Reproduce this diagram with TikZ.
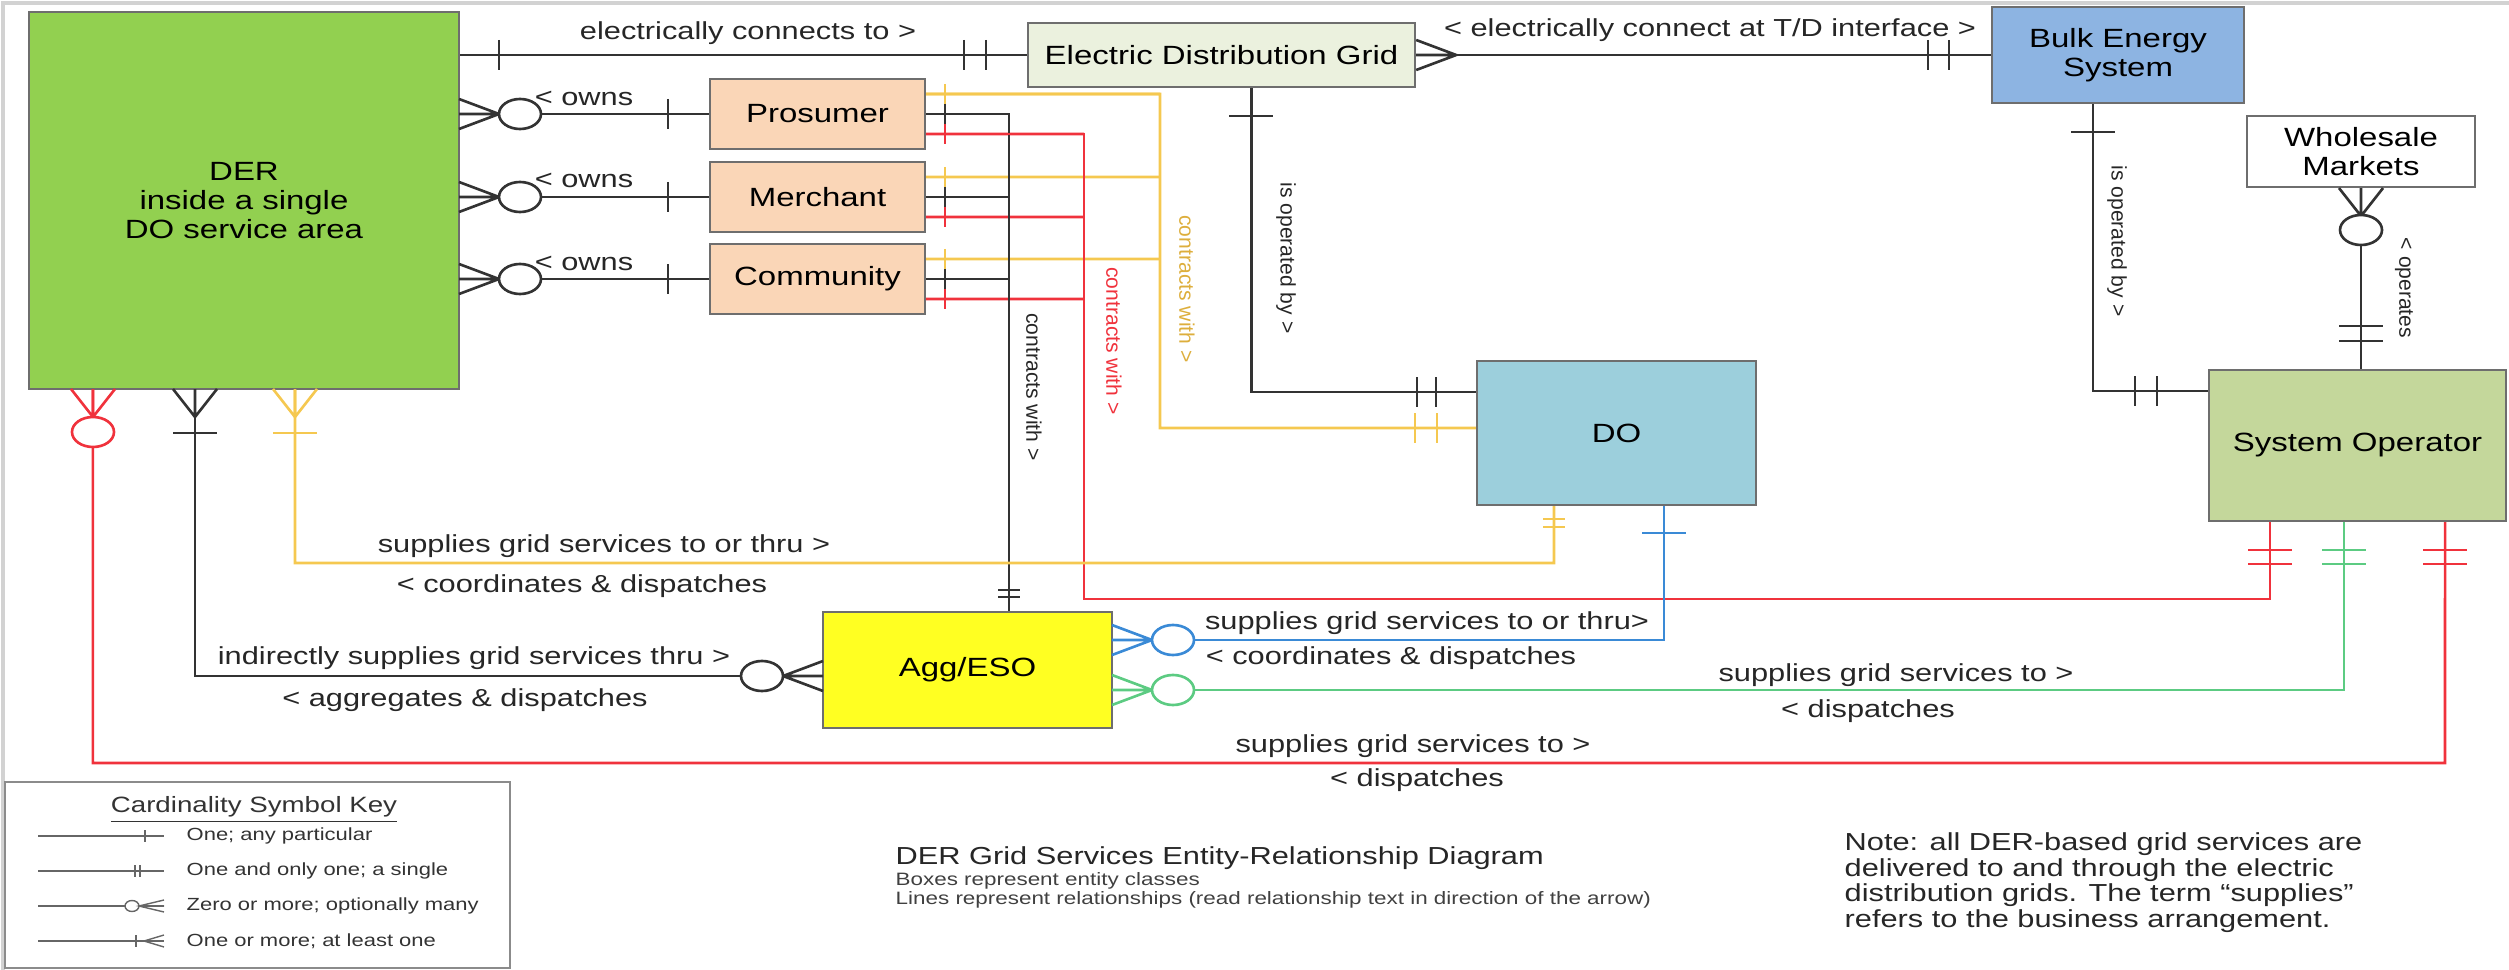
\documentclass[tikz,border=0pt]{standalone}
\usepackage{fontspec}
\setmainfont{Liberation Sans}[FakeStretch=1.25]
\newfontfamily\rotfont{Liberation Sans}
\usepackage{xcolor}
\usepackage{tikz}

\definecolor{dergreen}{HTML}{92D050}
\definecolor{peach}{HTML}{FAD6B7}
\definecolor{gridgreen}{HTML}{EBF1DE}
\definecolor{bulkblue}{HTML}{8DB4E2}
\definecolor{sogreen}{HTML}{C4D79B}
\definecolor{doblue}{HTML}{9CCFDC}
\definecolor{aggyellow}{HTML}{FFFF22}
\definecolor{linered}{HTML}{F0323C}
\definecolor{lineyellow}{HTML}{F5C850}
\definecolor{textyellow}{HTML}{DDAE3C}
\definecolor{lineblue}{HTML}{3A8AD6}
\definecolor{linegreen}{HTML}{5CCB82}
\definecolor{boxgray}{HTML}{6E6E6E}

\begin{document}
\begin{tikzpicture}[x=0.01cm, y=-0.01cm,
    box/.style={draw=boxgray, line width=0.6pt, inner sep=0pt, align=center, font=\fontsize{7.5}{8.2}\selectfont},
    rel/.style={inner sep=0pt, text=black!85, font=\fontsize{7}{8}\selectfont},
    relrot/.style={inner sep=0pt, text=black!85, rotate=-90, font=\rotfont\fontsize{6}{7}\selectfont},
    keytext/.style={inner sep=0pt, anchor=west, text=black!80, font=\fontsize{5}{6}\selectfont},
    conn/.style={line width=0.75pt},
    blk/.style={conn, draw=black!80},
    redl/.style={conn, draw=linered},
    yell/.style={conn, draw=lineyellow},
    blul/.style={conn, draw=lineblue},
    grnl/.style={conn, draw=linegreen},
    keyline/.style={draw=black!60, line width=0.4pt},
    vtick/.pic={\draw[conn] (0,-15) -- (0,15);},
    htick/.pic={\draw[conn] (-22,0) -- (22,0);},
    footR/.pic={\draw[conn] (0,-15) -- (40,0) -- (0,15) (0,0) -- (40,0);},
    footL/.pic={\draw[conn] (0,-15) -- (-40,0) -- (0,15) (0,0) -- (-40,0);},
    footD/.pic={\draw[conn] (-22,0) -- (0,28) -- (22,0) (0,0) -- (0,28);},
    ring/.pic={\draw[conn, fill=white] (0,0) ellipse [x radius=0.21cm, y radius=0.15cm];},
  ]
\useasboundingbox (0,0) rectangle (2509,970);
\draw[gray!35, line width=1pt] (3,970) -- (3,3) -- (2509,3);

% entities
\node[box, fill=dergreen, minimum width=4.30cm, minimum height=3.77cm] (der) at (244,200.5) {DER\\inside a single\\DO service area};
\node[box, fill=peach, minimum width=2.15cm, minimum height=0.70cm] (pros) at (817.5,114) {Prosumer};
\node[box, fill=peach, minimum width=2.15cm, minimum height=0.70cm] (merch) at (817.5,197) {Merchant};
\node[box, fill=peach, minimum width=2.15cm, minimum height=0.70cm] (comm) at (817.5,279) {Community};
\node[box, fill=gridgreen, minimum width=3.87cm, minimum height=0.64cm] (edg) at (1221.5,55) {Electric Distribution Grid};
\node[box, fill=bulkblue, minimum width=2.52cm, minimum height=0.96cm] (bes) at (2118,55) {Bulk Energy\\System};
\node[box, fill=white, minimum width=2.28cm, minimum height=0.71cm] (whm) at (2361,151.5) {Wholesale\\Markets};
\node[box, fill=sogreen, minimum width=2.97cm, minimum height=1.51cm] (sysop) at (2357.5,445.5) {System Operator};
\node[box, fill=doblue, minimum width=2.79cm, minimum height=1.44cm] (dso) at (1616.5,433) {DO};
\node[box, fill=aggyellow, minimum width=2.89cm, minimum height=1.16cm] (agg) at (967.5,670) {Agg/ESO};

% grid connections
\draw[blk] (der.east |- edg.west) -- (edg.west);
\pic[black!80] at (499,55) {vtick};
\pic[black!80] at (964,55) {vtick};
\pic[black!80] at (986,55) {vtick};
\draw[blk] (edg.east) -- (bes.west);
\pic[black!80] at (edg.east) {footR};
\pic[black!80] at (1928,55) {vtick};
\pic[black!80] at (1949,55) {vtick};

\draw[blk] ([xshift=0.30cm]edg.south) |- ([yshift=0.41cm]dso.west);
\pic[black!80] at (1251,116) {htick};
\pic[black!80] at (1417,392) {vtick};
\pic[black!80] at (1436,392) {vtick};

\draw[blk] ([xshift=-0.25cm]bes.south) |- ([yshift=0.545cm]sysop.west);
\pic[black!80] at (2093,132) {htick};
\pic[black!80] at (2135,391) {vtick};
\pic[black!80] at (2157,391) {vtick};

\draw[blk] (whm.south) -- (whm.south |- sysop.north);
\pic[black!80] at (whm.south) {footD};
\pic[black!80] at (2361,230) {ring};
\pic[black!80] at (2361,326) {htick};
\pic[black!80] at (2361,341) {htick};

% owners
\foreach \b/\y in {pros/114, merch/197, comm/279}{
  \draw[blk] (der.east |- \b.west) -- (\b.west);
  \pic[black!80] at (459,\y) {footR};
  \pic[black!80] at (520,\y) {ring};
  \pic[black!80] at (668,\y) {vtick};
  \draw[yell] ([yshift=0.2cm]\b.east) -- (1160,{\y-20});
  \draw[blk] (\b.east) -- (1009,\y);
  \draw[redl] ([yshift=-0.2cm]\b.east) -- (1084,{\y+20});
  \pic[lineyellow, scale=0.67] at (945,{\y-20}) {vtick};
  \pic[black!80, scale=0.67] at (945,\y) {vtick};
  \pic[linered, scale=0.67] at (945,{\y+20}) {vtick};
}
\draw[yell] ([yshift=0.2cm]pros.east) -| (1160,428) -- ([yshift=0.05cm]dso.west);
\pic[lineyellow] at (1415,428) {vtick};
\pic[lineyellow] at (1437,428) {vtick};
\draw[blk] (pros.east) -| ([xshift=0.415cm]agg.north);
\pic[black!80, scale=0.5] at (1009,590) {htick};
\pic[black!80, scale=0.5] at (1009,597) {htick};
\draw[redl] ([yshift=-0.2cm]pros.east) -| (1084,599) -| ([xshift=-0.875cm]sysop.south);
\pic[linered] at (2270,550) {htick};
\pic[linered] at (2270,564) {htick};

% DER services
\draw[redl] ([xshift=-1.51cm]der.south) |- (2445,763) -- ([xshift=0.875cm]sysop.south);
\pic[linered] at (93,389) {footD};
\pic[linered] at (93,432) {ring};
\pic[linered] at (2445,550) {htick};
\pic[linered] at (2445,564) {htick};

\draw[blk] ([xshift=-0.49cm]der.south) |- ([yshift=-0.06cm]agg.west);
\pic[black!80] at (195,389) {footD};
\pic[black!80] at (195,433) {htick};
\pic[black!80] at (823,676) {footL};
\pic[black!80] at (762,676) {ring};

\draw[yell] ([xshift=0.51cm]der.south) |- (1554,563) -- ([xshift=-0.625cm]dso.south);
\pic[lineyellow] at (295,389) {footD};
\pic[lineyellow] at (295,433) {htick};
\pic[lineyellow, scale=0.5] at (1554,519) {htick};
\pic[lineyellow, scale=0.5] at (1554,527) {htick};

% Agg/ESO services
\draw[blul] ([yshift=0.3cm]agg.east) -| ([xshift=0.475cm]dso.south);
\pic[lineblue] at (1112,640) {footR};
\pic[lineblue] at (1173,640) {ring};
\pic[lineblue] at (1664,533) {htick};
\draw[grnl] ([yshift=-0.2cm]agg.east) -| ([xshift=-0.135cm]sysop.south);
\pic[linegreen] at (1112,690) {footR};
\pic[linegreen] at (1173,690) {ring};
\pic[linegreen] at (2344,550) {htick};
\pic[linegreen] at (2344,564) {htick};

% relationship texts
\node[rel] (lconn) at (748,33) {electrically connects to >};
\node[rel] (linterface) at (1710,30) {< electrically connect at T/D interface >};
\node[relrot] (lopgrid) at (1286,258) {is operated by >};
\node[relrot] (lopbulk) at (2117,241) {is operated by >};
\node[relrot] (loperates) at (2404,288) {< operates};
\node[rel] (lowns1) at (584,98) {< owns};
\node[rel] (lowns2) at (584,180) {< owns};
\node[rel] (lowns3) at (584,263) {< owns};
\node[relrot] (lcagg) at (1034,387) {contracts with >};
\node[relrot, text=linered] (lcso) at (1114,341) {contracts with >};
\node[relrot, text=textyellow] (lcdo) at (1187,289) {contracts with >};
\node[rel] (ldo1) at (604,546) {supplies grid services to or thru >};
\node[rel] (ldo2) at (582,586) {< coordinates \& dispatches};
\node[rel] (lagg1) at (474,658) {indirectly supplies grid services thru >};
\node[rel] (lagg2) at (465,700) {< aggregates \& dispatches};
\node[rel] (laggdo1) at (1427,623) {supplies grid services to or thru>};
\node[rel] (laggdo2) at (1391,658) {< coordinates \& dispatches};
\node[rel] (laggso1) at (1896,675) {supplies grid services to >};
\node[rel] (laggso2) at (1868,711) {< dispatches};
\node[rel] (lso1) at (1413,746) {supplies grid services to >};
\node[rel] (lso2) at (1417,780) {< dispatches};

% key
\node[draw=boxgray!80, line width=0.6pt, minimum width=5.05cm, minimum height=1.86cm, inner sep=0pt] (key) at (257.5,875) {};
\node[inner sep=0pt, text=black!80, font=\fontsize{6.3}{7}\selectfont] (keytitle) at (254,810) {\underline{Cardinality Symbol Key}};
\foreach \y/\t [count=\i] in {836/{One; any particular}, 871/{One and only one; a single}, 906/{Zero or more; optionally many}, 941/{One or more; at least one}}{
  \draw[keyline] (38,\y) -- (164,\y);
  \node[keytext] (keyrow\i) at (186,\y) {\t};
}
\draw[keyline] (145,830) -- (145,842);
\draw[keyline] (135,865) -- (135,877) (140,865) -- (140,877);
\draw[keyline, fill=white] (132,906) ellipse [x radius=0.07cm, y radius=0.055cm];
\draw[keyline] (164,900) -- (139,906) -- (164,912) (139,906) -- (164,906);
\draw[keyline] (136,935) -- (136,947);
\draw[keyline] (164,935) -- (144,941) -- (164,947);

% captions
\node[inner sep=0pt, anchor=west, text=black!85, font=\fontsize{7}{8}\selectfont] (title) at (895,858) {DER Grid Services Entity-Relationship Diagram};
\node[inner sep=0pt, anchor=west, text=black!75, font=\fontsize{5.1}{6}\selectfont] (sub1) at (895,881) {Boxes represent entity classes};
\node[inner sep=0pt, anchor=west, text=black!75, font=\fontsize{5.1}{6}\selectfont] (sub2) at (895,900) {Lines represent relationships (read relationship text in direction of the arrow)};
\node[inner sep=0pt, anchor=north west, align=left, text=black!85, font=\fontsize{7}{7.3}\selectfont] (note) at (1844,832) {Note: all DER-based grid services are\\delivered to and through the electric\\distribution grids. The term “supplies”\\refers to the business arrangement.};
\end{tikzpicture}
\end{document}
